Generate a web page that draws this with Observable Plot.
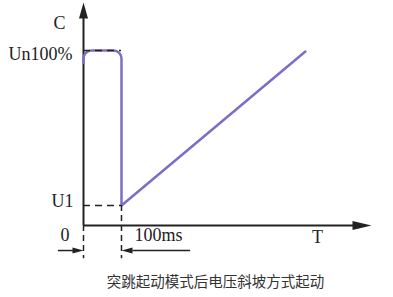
<!DOCTYPE html>
<html>
<head>
<meta charset="utf-8">
<script src="https://cdn.jsdelivr.net/npm/d3@7"></script>
<script src="https://cdn.jsdelivr.net/npm/@observablehq/plot@0.6"></script>
<style>
  html, body { margin: 0; padding: 0; background: #fff; }
  #chart svg { display: block; }
  #title { width: 393px; height: 31px; line-height: 30px; text-align: center; padding-left: 38px; box-sizing: border-box;
           font-family: "Noto Sans CJK SC", sans-serif; font-size: 14.5px; color: #333; }
</style>
</head>
<body>
<div id="chart"></div>
<div id="title">突跳起动模式后电压斜坡方式起动</div>
<script>
// ---- data ----
const xTickValues = [0, 100];            // ms
const xTickLabels = ["0", "100ms"];
const yTickValues = [100, 11.4];         // % of Un
const yTickLabels = ["Un100%", "U1"];
const axisLabelX = "T";
const axisLabelY = "C";
// voltage curve: kick-start pulse then ramp
const curveT = [0, 0, 100, 100, 584];
const curveV = [93, 100, 100, 11.4, 99.4];

const xMax = 758, yMax = 127.4;
const curve = curveT.map((t, i) => ({t, v: curveV[i]}));

// rounded corner curve (per-corner radius)
const roundedCurve = (radii) => (context) => {
  let pts;
  return {
    areaStart() {}, areaEnd() {},
    lineStart() { pts = []; },
    point(x, y) { pts.push([x, y]); },
    lineEnd() {
      if (!pts.length) return;
      context.moveTo(pts[0][0], pts[0][1]);
      for (let i = 1; i < pts.length - 1; i++) {
        const r = radii[i - 1] || 0;
        if (r > 0) context.arcTo(pts[i][0], pts[i][1], pts[i + 1][0], pts[i + 1][1], r);
        else context.lineTo(pts[i][0], pts[i][1]);
      }
      context.lineTo(pts[pts.length - 1][0], pts[pts.length - 1][1]);
    }
  };
};

// filled arrow head symbol, tip at the point, pointing up before rotation
const head = (L, w) => ({
  draw(ctx) { ctx.moveTo(0, 0); ctx.lineTo(w, L); ctx.lineTo(-w, L); ctx.closePath(); }
});

const ink = "#222";
const serif = "Liberation Serif";
const purple = "#7b6ec6";
const u1 = yTickValues[1];
const dimY = -14.3, dimBottom = -19;

const plot = Plot.plot({
  width: 393, height: 266,
  marginLeft: 83, marginRight: 22, marginTop: 2, marginBottom: 41,
  x: {domain: [0, xMax], axis: null},
  y: {domain: [0, yMax], axis: null},
  style: {background: "#fff"},
  marks: [
    // axes
    Plot.ruleX([0], {y1: 0, y2: yMax - 9, stroke: ink, strokeWidth: 2}),
    Plot.ruleY([0], {x1: 0, x2: xMax - 40, stroke: ink, strokeWidth: 2}),
    Plot.dot([0], {x: () => 0, y: () => yMax, symbol: head(16, 4.5), fill: ink, rotate: 0}),
    Plot.dot([0], {x: () => xMax, y: () => 0, symbol: head(19, 4.5), fill: ink, rotate: 90}),
    // voltage curve
    Plot.line(curve, {x: "t", y: "v", stroke: purple, strokeWidth: 2.5, curve: roundedCurve([8, 8, 0]), strokeLinejoin: "miter"}),
    // dashed guides
    Plot.ruleY(yTickValues, {x1: 0, x2: xTickValues[1], stroke: ink, strokeWidth: 1.5, strokeDasharray: "7,5"}),
    Plot.ruleX(xTickValues, {y1: d => d === 0 ? 0 : u1, y2: dimBottom, stroke: ink, strokeWidth: 1.5, strokeDasharray: "6,4"}),
    // dimension arrows
    Plot.ruleY([dimY], {x1: -66, x2: -20, stroke: ink, strokeWidth: 1.5}),
    Plot.dot([0], {x: () => 0, y: () => dimY, symbol: head(11, 3), fill: ink, rotate: 90}),
    Plot.ruleY([dimY], {x1: 130, x2: 282, stroke: ink, strokeWidth: 1.5}),
    Plot.dot([0], {x: () => 100, y: () => dimY, symbol: head(11, 3), fill: ink, rotate: -90}),
    // labels
    Plot.text([yTickLabels[0]], {x: () => 0, y: () => yTickValues[0], text: d => d, textAnchor: "end", dx: -11, dy: 4, fontFamily: serif, fontSize: 18, fill: ink}),
    Plot.text([yTickLabels[1]], {x: () => 0, y: () => yTickValues[1], text: d => d, textAnchor: "end", dx: -10, dy: -4, fontFamily: serif, fontSize: 18, fill: ink}),
    Plot.text([axisLabelY], {x: () => 0, y: () => yMax, text: d => d, textAnchor: "end", dx: -18, dy: 21, fontFamily: serif, fontSize: 18, fill: ink}),
    Plot.text([xTickLabels[0]], {x: () => xTickValues[0], y: () => 0, text: d => d, textAnchor: "middle", dx: -18.5, dy: 9.5, fontFamily: serif, fontSize: 18, fill: ink}),
    Plot.text([xTickLabels[1]], {x: () => xTickValues[1], y: () => 0, text: d => d, textAnchor: "start", dx: 13, dy: 9.5, fontFamily: serif, fontSize: 18, fill: ink}),
    Plot.text([axisLabelX], {x: () => xMax, y: () => 0, text: d => d, textAnchor: "middle", dx: -54, dy: 12, fontFamily: serif, fontSize: 18, fill: ink})
  ]
});
document.getElementById("chart").appendChild(plot);
</script>
</body>
</html>
